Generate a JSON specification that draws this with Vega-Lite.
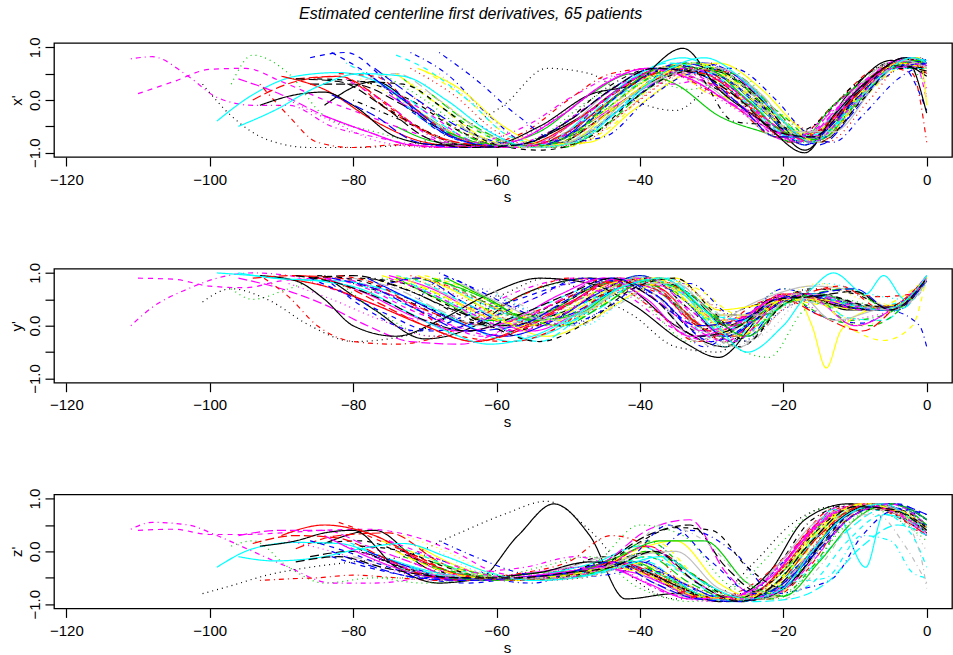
{
"$schema": "https://vega.github.io/schema/vega-lite/v6.json",
"padding": {"left": 8, "top": 5, "right": 0, "bottom": 2},
"background": "white",
"title": {"text": "Estimated centerline first derivatives, 65 patients", "anchor": "start", "frame": "group", "dx": 245, "offset": 1.5, "baseline": "alphabetic", "font": "Liberation Sans", "fontSize": 16, "fontStyle": "italic", "fontWeight": "normal", "color": "black"},
"config": {
  "font": "Liberation Sans",
  "view": {"stroke": "black", "strokeWidth": 1.3},
  "axis": {"domain": false, "grid": false, "ticks": true, "tickColor": "black", "tickSize": 9, "tickWidth": 1.2, "labelFont": "Liberation Sans", "labelFontSize": 15, "labelColor": "black", "titleFont": "Liberation Sans", "titleFontSize": 15, "titleFontWeight": "normal", "titleColor": "black", "labelFlush": false, "labelOverlap": false},
  "axisX": {"labelPadding": 6, "titleX": 453, "titleY": 44, "titleAlign": "center", "titleBaseline": "alphabetic"},
  "axisY": {"labelAngle": -90, "labelAlign": "center", "labelBaseline": "bottom", "labelPadding": 3, "titleAngle": -90, "titleX": -38, "titleY": 57, "titleAlign": "center", "titleBaseline": "middle"}
},
"data": {"values": [
{"c":1,"s":-84,"x":-0.1,"y":0.95,"z":0.15},{"c":1,"s":-77,"x":0.35,"y":0.3,"z":0.4},{"c":1,"s":-70,"x":-0.3,"y":-0.25,"z":-0.3},{"c":1,"s":-63,"x":-0.8,"y":0.0,"z":-0.55},{"c":1,"s":-57,"x":-0.85,"y":0.55,"z":0.3},{"c":1,"s":-52,"x":-0.6,"y":0.8,"z":0.9},{"c":1,"s":-47,"x":-0.2,"y":0.9,"z":0.3},{"c":1,"s":-42,"x":0.3,"y":0.75,"z":-0.9},{"c":1,"s":-35,"x":0.65,"y":0.0,"z":-0.8},{"c":1,"s":-28,"x":0.4,"y":-0.4,"z":-0.9},{"c":1,"s":-22,"x":-0.3,"y":0.5,"z":-0.4},{"c":1,"s":-17,"x":-0.95,"y":0.6,"z":0.6},{"c":1,"s":-11,"x":0.1,"y":0.3,"z":0.9},{"c":1,"s":-5,"x":0.75,"y":0.3,"z":0.75},{"c":1,"s":0,"x":0.45,"y":0.9,"z":0.35},
{"c":2,"s":-78,"x":0.2,"y":0.6,"z":0.3},{"c":2,"s":-71,"x":-0.5,"y":0.9,"z":-0.1},{"c":2,"s":-64,"x":-0.85,"y":0.6,"z":-0.5},{"c":2,"s":-57,"x":-0.9,"y":0.2,"z":-0.55},{"c":2,"s":-50,"x":-0.7,"y":0.4,"z":-0.4},{"c":2,"s":-44,"x":0.0,"y":0.8,"z":-0.3},{"c":2,"s":-37,"x":0.5,"y":0.6,"z":-0.5},{"c":2,"s":-30,"x":0.3,"y":-0.1,"z":-0.9},{"c":2,"s":-24,"x":-0.2,"y":0.4,"z":-0.6},{"c":2,"s":-19,"x":-0.8,"y":0.6,"z":0.0},{"c":2,"s":-13,"x":-0.1,"y":0.7,"z":0.8},{"c":2,"s":-7,"x":0.6,"y":0.55,"z":0.8},{"c":2,"s":-2,"x":0.7,"y":0.6,"z":0.5},{"c":2,"s":0,"x":0.6,"y":0.85,"z":0.4},
{"c":3,"s":-97,"x":0.3,"y":0.7,"z":0.1},{"c":3,"s":-94,"x":0.85,"y":0.5,"z":0.2},{"c":3,"s":-89,"x":0.5,"y":0.7,"z":-0.3},{"c":3,"s":-84,"x":-0.3,"y":0.9,"z":-0.6},{"c":3,"s":-77,"x":-0.6,"y":0.3,"z":-0.5},{"c":3,"s":-69,"x":-0.85,"y":-0.2,"z":-0.5},{"c":3,"s":-61,"x":-0.9,"y":0.3,"z":-0.5},{"c":3,"s":-54,"x":-0.7,"y":0.7,"z":-0.3},{"c":3,"s":-47,"x":0.0,"y":0.9,"z":-0.1},{"c":3,"s":-40,"x":0.4,"y":0.5,"z":-0.7},{"c":3,"s":-33,"x":0.2,"y":-0.3,"z":-0.95},{"c":3,"s":-26,"x":0.5,"y":0.1,"z":-0.6},{"c":3,"s":-20,"x":-0.5,"y":0.7,"z":0.2},{"c":3,"s":-15,"x":-0.6,"y":0.5,"z":0.8},{"c":3,"s":-9,"x":0.4,"y":0.3,"z":0.85},{"c":3,"s":-4,"x":0.7,"y":0.4,"z":0.6},{"c":3,"s":0,"x":0.3,"y":0.8,"z":0.2},
{"c":4,"s":-72,"x":0.9,"y":0.3,"z":0.0},{"c":4,"s":-67,"x":0.5,"y":0.9,"z":-0.2},{"c":4,"s":-61,"x":-0.3,"y":0.5,"z":-0.5},{"c":4,"s":-55,"x":-0.85,"y":0.0,"z":-0.6},{"c":4,"s":-49,"x":-0.6,"y":0.5,"z":-0.4},{"c":4,"s":-43,"x":0.2,"y":0.9,"z":-0.2},{"c":4,"s":-37,"x":0.6,"y":0.4,"z":-0.6},{"c":4,"s":-31,"x":0.5,"y":-0.4,"z":-0.9},{"c":4,"s":-25,"x":0.0,"y":0.2,"z":-0.8},{"c":4,"s":-20,"x":-0.6,"y":0.7,"z":-0.2},{"c":4,"s":-15,"x":-0.7,"y":0.5,"z":0.5},{"c":4,"s":-10,"x":0.0,"y":0.4,"z":0.85},{"c":4,"s":-5,"x":0.5,"y":0.3,"z":0.9},{"c":4,"s":-1,"x":0.8,"y":0.0,"z":0.7},{"c":4,"s":0,"x":0.7,"y":-0.4,"z":0.6},
{"c":5,"s":-66,"x":-0.7,"y":0.7,"z":-0.4},{"c":5,"s":-60,"x":-0.85,"y":0.3,"z":-0.5},{"c":5,"s":-53,"x":-0.8,"y":0.0,"z":-0.5},{"c":5,"s":-46,"x":-0.2,"y":0.3,"z":-0.3},{"c":5,"s":-39,"x":0.4,"y":0.9,"z":-0.2},{"c":5,"s":-33,"x":0.7,"y":0.5,"z":-0.8},{"c":5,"s":-27,"x":0.2,"y":-0.2,"z":-0.95},{"c":5,"s":-21,"x":-0.6,"y":0.4,"z":-0.8},{"c":5,"s":-16,"x":-0.8,"y":0.6,"z":-0.3},{"c":5,"s":-11,"x":-0.2,"y":0.15,"z":0.4},{"c":5,"s":-6,"x":0.5,"y":0.1,"z":0.8},{"c":5,"s":-2,"x":0.8,"y":0.6,"z":0.6},{"c":5,"s":0,"x":0.7,"y":0.9,"z":0.4},
{"c":6,"s":-75,"x":0.1,"y":0.95,"z":0.2},{"c":6,"s":-69,"x":-0.4,"y":0.7,"z":-0.3},{"c":6,"s":-62,"x":-0.85,"y":0.2,"z":-0.5},{"c":6,"s":-55,"x":-0.9,"y":-0.1,"z":-0.4},{"c":6,"s":-48,"x":-0.5,"y":0.3,"z":-0.3},{"c":6,"s":-41,"x":0.1,"y":0.8,"z":-0.4},{"c":6,"s":-35,"x":0.5,"y":0.7,"z":-0.7},{"c":6,"s":-29,"x":0.6,"y":0.1,"z":-0.9},{"c":6,"s":-23,"x":0.0,"y":0.3,"z":-0.7},{"c":6,"s":-18,"x":-0.7,"y":0.6,"z":0.1},{"c":6,"s":-12,"x":-0.2,"y":0.5,"z":0.8},{"c":6,"s":-7,"x":0.5,"y":0.3,"z":0.9},{"c":6,"s":-3,"x":0.8,"y":0.5,"z":0.6},{"c":6,"s":0,"x":0.6,"y":0.95,"z":0.3},
{"c":7,"s":-70,"x":0.55,"y":0.95,"z":-0.1},{"c":7,"s":-64,"x":0.0,"y":0.7,"z":-0.4},{"c":7,"s":-58,"x":-0.7,"y":0.3,"z":-0.5},{"c":7,"s":-51,"x":-0.9,"y":0.1,"z":-0.5},{"c":7,"s":-44,"x":-0.5,"y":0.5,"z":-0.2},{"c":7,"s":-38,"x":0.3,"y":0.9,"z":0.2},{"c":7,"s":-32,"x":0.7,"y":0.7,"z":-0.5},{"c":7,"s":-26,"x":-0.2,"y":0.2,"z":-0.9},{"c":7,"s":-20,"x":-0.3,"y":0.5,"z":-0.6},{"c":7,"s":-15,"x":-0.8,"y":0.4,"z":0.3},{"c":7,"s":-9,"x":0.0,"y":0.3,"z":0.85},{"c":7,"s":-4,"x":0.6,"y":0.5,"z":0.7},{"c":7,"s":0,"x":0.7,"y":0.9,"z":0.5},
{"c":8,"s":-68,"x":0.5,"y":0.9,"z":0.0},{"c":8,"s":-62,"x":-0.2,"y":0.6,"z":-0.4},{"c":8,"s":-56,"x":-0.8,"y":0.2,"z":-0.5},{"c":8,"s":-49,"x":-0.85,"y":0.3,"z":-0.45},{"c":8,"s":-42,"x":-0.2,"y":0.8,"z":-0.3},{"c":8,"s":-36,"x":0.4,"y":0.6,"z":-0.6},{"c":8,"s":-30,"x":0.5,"y":-0.3,"z":-0.9},{"c":8,"s":-24,"x":0.2,"y":0.1,"z":-0.8},{"c":8,"s":-19,"x":-0.5,"y":0.6,"z":-0.1},{"c":8,"s":-14,"x":-0.6,"y":0.4,"z":0.7},{"c":8,"s":-8,"x":0.3,"y":0.3,"z":0.9},{"c":8,"s":-3,"x":0.8,"y":0.4,"z":0.6},{"c":8,"s":0,"x":0.6,"y":0.8,"z":0.0},
{"c":9,"s":-80,"x":0.0,"y":0.8,"z":0.1},{"c":9,"s":-73,"x":-0.4,"y":0.5,"z":-0.3},{"c":9,"s":-66,"x":-0.8,"y":0.1,"z":-0.5},{"c":9,"s":-59,"x":-0.9,"y":0.0,"z":-0.5},{"c":9,"s":-52,"x":-0.6,"y":0.4,"z":-0.4},{"c":9,"s":-45,"x":0.2,"y":0.8,"z":-0.1},{"c":9,"s":-38,"x":0.6,"y":0.6,"z":-0.5},{"c":9,"s":-32,"x":0.4,"y":-0.1,"z":-0.9},{"c":9,"s":-26,"x":-0.1,"y":0.3,"z":-0.8},{"c":9,"s":-21,"x":-0.7,"y":0.5,"z":-0.3},{"c":9,"s":-16,"x":-0.5,"y":0.7,"z":0.6},{"c":9,"s":-10,"x":0.3,"y":0.6,"z":0.9},{"c":9,"s":-5,"x":0.7,"y":0.35,"z":0.75},{"c":9,"s":0,"x":0.5,"y":0.85,"z":0.4},
{"c":10,"s":-88,"x":0.4,"y":0.95,"z":0.05},{"c":10,"s":-82,"x":0.45,"y":0.9,"z":0.3},{"c":10,"s":-75,"x":-0.2,"y":0.6,"z":0.35},{"c":10,"s":-68,"x":-0.7,"y":0.2,"z":-0.2},{"c":10,"s":-61,"x":-0.9,"y":0.0,"z":-0.55},{"c":10,"s":-54,"x":-0.8,"y":0.3,"z":-0.5},{"c":10,"s":-47,"x":-0.2,"y":0.7,"z":-0.4},{"c":10,"s":-40,"x":0.4,"y":0.9,"z":-0.3},{"c":10,"s":-34,"x":0.6,"y":0.3,"z":-0.8},{"c":10,"s":-28,"x":0.2,"y":-0.3,"z":-0.95},{"c":10,"s":-22,"x":-0.4,"y":0.4,"z":-0.6},{"c":10,"s":-17,"x":-0.85,"y":0.6,"z":0.3},{"c":10,"s":-11,"x":0.0,"y":0.4,"z":0.85},{"c":10,"s":-6,"x":0.6,"y":0.3,"z":0.8},{"c":10,"s":-2,"x":0.7,"y":0.6,"z":0.5},{"c":10,"s":0,"x":0.5,"y":0.9,"z":0.3},
{"c":11,"s":-74,"x":-0.5,"y":0.9,"z":-0.3},{"c":11,"s":-68,"x":-0.8,"y":0.5,"z":-0.5},{"c":11,"s":-61,"x":-0.85,"y":0.1,"z":-0.5},{"c":11,"s":-54,"x":-0.6,"y":0.2,"z":-0.4},{"c":11,"s":-47,"x":0.1,"y":0.7,"z":-0.35},{"c":11,"s":-41,"x":0.5,"y":0.9,"z":-0.2},{"c":11,"s":-35,"x":0.3,"y":0.4,"z":-0.6},{"c":11,"s":-29,"x":-0.3,"y":-0.2,"z":-0.9},{"c":11,"s":-23,"x":-0.6,"y":0.3,"z":-0.7},{"c":11,"s":-18,"x":-0.8,"y":0.5,"z":-0.1},{"c":11,"s":-13,"x":-0.1,"y":0.4,"z":0.6},{"c":11,"s":-7,"x":0.5,"y":0.3,"z":0.9},{"c":11,"s":-3,"x":0.75,"y":0.5,"z":0.7},{"c":11,"s":0,"x":0.6,"y":0.9,"z":0.5},
{"c":12,"s":-83,"x":0.9,"y":0.8,"z":-0.1},{"c":12,"s":-78,"x":0.5,"y":0.3,"z":-0.3},{"c":12,"s":-71,"x":-0.3,"y":-0.1,"z":-0.5},{"c":12,"s":-64,"x":-0.8,"y":0.2,"z":-0.6},{"c":12,"s":-57,"x":-0.85,"y":0.5,"z":-0.5},{"c":12,"s":-50,"x":-0.7,"y":0.8,"z":-0.45},{"c":12,"s":-43,"x":-0.1,"y":0.9,"z":-0.3},{"c":12,"s":-37,"x":0.5,"y":0.5,"z":-0.4},{"c":12,"s":-31,"x":0.7,"y":-0.2,"z":-0.8},{"c":12,"s":-25,"x":0.2,"y":0.1,"z":-0.9},{"c":12,"s":-20,"x":-0.5,"y":0.6,"z":-0.5},{"c":12,"s":-15,"x":-0.7,"y":0.2,"z":0.3},{"c":12,"s":-9,"x":0.2,"y":0.05,"z":0.8},{"c":12,"s":-4,"x":0.7,"y":0.4,"z":0.9},{"c":12,"s":0,"x":-0.2,"y":0.8,"z":0.6},
{"c":13,"s":-65,"x":-0.3,"y":0.6,"z":-0.3},{"c":13,"s":-59,"x":-0.8,"y":0.2,"z":-0.5},{"c":13,"s":-53,"x":-0.9,"y":0.1,"z":-0.55},{"c":13,"s":-46,"x":-0.4,"y":0.5,"z":-0.4},{"c":13,"s":-40,"x":0.2,"y":0.85,"z":-0.2},{"c":13,"s":-34,"x":0.6,"y":0.3,"z":-0.6},{"c":13,"s":-28,"x":0.3,"y":-0.4,"z":-0.9},{"c":13,"s":-22,"x":-0.3,"y":0.4,"z":-0.7},{"c":13,"s":-17,"x":-0.8,"y":0.6,"z":0.0},{"c":13,"s":-12,"x":-0.3,"y":0.4,"z":0.7},{"c":13,"s":-6,"x":0.5,"y":0.35,"z":0.85},{"c":13,"s":-2,"x":0.75,"y":0.6,"z":0.6},{"c":13,"s":0,"x":0.6,"y":0.9,"z":0.4},
{"c":14,"s":-111,"x":0.78,"y":0.0,"z":0.42},{"c":14,"s":-108,"x":0.82,"y":0.35,"z":0.55},{"c":14,"s":-103,"x":0.45,"y":0.7,"z":0.5},{"c":14,"s":-99,"x":0.05,"y":0.9,"z":0.3},{"c":14,"s":-94,"x":-0.1,"y":1.0,"z":0.0},{"c":14,"s":-89,"x":-0.1,"y":0.95,"z":-0.3},{"c":14,"s":-83,"x":-0.5,"y":0.7,"z":-0.6},{"c":14,"s":-77,"x":-0.7,"y":0.4,"z":-0.6},{"c":14,"s":-70,"x":-0.85,"y":0.1,"z":-0.5},{"c":14,"s":-63,"x":-0.8,"y":0.3,"z":-0.4},{"c":14,"s":-56,"x":-0.5,"y":0.7,"z":-0.3},{"c":14,"s":-49,"x":0.1,"y":0.9,"z":-0.1},{"c":14,"s":-42,"x":0.5,"y":0.6,"z":-0.4},{"c":14,"s":-36,"x":0.3,"y":0.0,"z":-0.8},{"c":14,"s":-30,"x":0.4,"y":-0.3,"z":-0.9},{"c":14,"s":-24,"x":-0.2,"y":0.3,"z":-0.7},{"c":14,"s":-19,"x":-0.7,"y":0.6,"z":0.0},{"c":14,"s":-13,"x":-0.2,"y":0.4,"z":0.75},{"c":14,"s":-7,"x":0.5,"y":0.3,"z":0.9},{"c":14,"s":-3,"x":0.8,"y":0.5,"z":0.6},{"c":14,"s":0,"x":0.6,"y":0.95,"z":0.3},
{"c":15,"s":-76,"x":0.3,"y":0.95,"z":0.2},{"c":15,"s":-70,"x":-0.3,"y":0.7,"z":-0.1},{"c":15,"s":-63,"x":-0.8,"y":0.3,"z":-0.45},{"c":15,"s":-56,"x":-0.9,"y":0.0,"z":-0.5},{"c":15,"s":-49,"x":-0.6,"y":0.3,"z":-0.45},{"c":15,"s":-42,"x":0.1,"y":0.8,"z":-0.2},{"c":15,"s":-36,"x":0.6,"y":0.8,"z":-0.5},{"c":15,"s":-30,"x":0.1,"y":0.2,"z":-0.9},{"c":15,"s":-24,"x":0.0,"y":0.2,"z":-0.8},{"c":15,"s":-19,"x":-0.6,"y":0.6,"z":-0.2},{"c":15,"s":-14,"x":-0.6,"y":0.4,"z":0.6},{"c":15,"s":-8,"x":0.2,"y":0.3,"z":0.9},{"c":15,"s":-3,"x":0.7,"y":0.4,"z":0.7},{"c":15,"s":0,"x":0.6,"y":0.85,"z":0.45},
{"c":16,"s":-70,"x":-0.6,"y":0.8,"z":-0.4},{"c":16,"s":-64,"x":-0.85,"y":0.4,"z":-0.5},{"c":16,"s":-57,"x":-0.9,"y":0.1,"z":-0.5},{"c":16,"s":-50,"x":-0.5,"y":0.4,"z":-0.3},{"c":16,"s":-44,"x":0.2,"y":0.85,"z":-0.1},{"c":16,"s":-38,"x":0.6,"y":0.6,"z":-0.6},{"c":16,"s":-32,"x":0.4,"y":-0.3,"z":-0.9},{"c":16,"s":-26,"x":-0.2,"y":0.3,"z":-0.85},{"c":16,"s":-21,"x":-0.7,"y":0.6,"z":-0.3},{"c":16,"s":-16,"x":-0.6,"y":0.75,"z":0.5},{"c":16,"s":-10,"x":0.2,"y":0.65,"z":0.85},{"c":16,"s":-5,"x":0.7,"y":0.35,"z":0.75},{"c":16,"s":0,"x":0.55,"y":0.85,"z":0.4},
{"c":17,"s":-85,"x":0.4,"y":0.95,"z":0.15},{"c":17,"s":-79,"x":0.35,"y":0.85,"z":0.2},{"c":17,"s":-72,"x":0.0,"y":0.5,"z":-0.1},{"c":17,"s":-65,"x":-0.6,"y":0.1,"z":-0.5},{"c":17,"s":-58,"x":-0.9,"y":0.0,"z":-0.55},{"c":17,"s":-51,"x":-0.85,"y":0.4,"z":-0.5},{"c":17,"s":-44,"x":-0.3,"y":0.85,"z":-0.2},{"c":17,"s":-38,"x":0.4,"y":0.7,"z":0.0},{"c":17,"s":-32,"x":0.7,"y":0.0,"z":-0.5},{"c":17,"s":-26,"x":0.3,"y":-0.4,"z":-0.95},{"c":17,"s":-20,"x":-0.5,"y":0.4,"z":-0.7},{"c":17,"s":-15,"x":-0.75,"y":0.6,"z":0.2},{"c":17,"s":-9,"x":0.1,"y":0.4,"z":0.85},{"c":17,"s":-4,"x":0.7,"y":0.3,"z":0.8},{"c":17,"s":0,"x":0.7,"y":0.9,"z":0.5},
{"c":18,"s":-72,"x":0.1,"y":0.9,"z":-0.2},{"c":18,"s":-66,"x":-0.5,"y":0.6,"z":-0.45},{"c":18,"s":-60,"x":-0.85,"y":0.2,"z":-0.5},{"c":18,"s":-53,"x":-0.9,"y":0.0,"z":-0.5},{"c":18,"s":-46,"x":-0.6,"y":0.4,"z":-0.4},{"c":18,"s":-40,"x":0.0,"y":0.85,"z":-0.2},{"c":18,"s":-34,"x":0.5,"y":0.6,"z":-0.7},{"c":18,"s":-28,"x":0.3,"y":-0.1,"z":-0.95},{"c":18,"s":-22,"x":-0.4,"y":0.5,"z":-0.6},{"c":18,"s":-17,"x":-0.85,"y":0.55,"z":0.3},{"c":18,"s":-11,"x":0.0,"y":0.4,"z":0.85},{"c":18,"s":-6,"x":0.6,"y":0.3,"z":0.8},{"c":18,"s":-2,"x":0.8,"y":0.6,"z":0.5},{"c":18,"s":0,"x":0.6,"y":0.9,"z":0.4},
{"c":19,"s":-64,"x":-0.7,"y":0.5,"z":-0.5},{"c":19,"s":-58,"x":-0.9,"y":0.2,"z":-0.55},{"c":19,"s":-52,"x":-0.8,"y":0.3,"z":-0.5},{"c":19,"s":-45,"x":-0.3,"y":0.7,"z":-0.3},{"c":19,"s":-39,"x":0.3,"y":0.9,"z":0.2},{"c":19,"s":-33,"x":0.6,"y":0.4,"z":-0.4},{"c":19,"s":-27,"x":0.0,"y":-0.3,"z":-0.9},{"c":19,"s":-21,"x":-0.2,"y":0.3,"z":-0.8},{"c":19,"s":-16,"x":-0.7,"y":0.6,"z":-0.1},{"c":19,"s":-11,"x":-0.1,"y":0.1,"z":0.6},{"c":19,"s":-6,"x":0.6,"y":0.2,"z":0.85},{"c":19,"s":-2,"x":0.8,"y":0.6,"z":0.6},{"c":19,"s":0,"x":0.7,"y":0.9,"z":0.4},
{"c":20,"s":-77,"x":0.6,"y":0.7,"z":-0.1},{"c":20,"s":-71,"x":0.0,"y":0.9,"z":-0.4},{"c":20,"s":-64,"x":-0.6,"y":0.4,"z":-0.55},{"c":20,"s":-57,"x":-0.85,"y":0.0,"z":-0.5},{"c":20,"s":-50,"x":-0.8,"y":0.2,"z":-0.45},{"c":20,"s":-43,"x":-0.2,"y":0.7,"z":-0.3},{"c":20,"s":-37,"x":0.4,"y":0.9,"z":-0.4},{"c":20,"s":-31,"x":0.7,"y":0.3,"z":-0.85},{"c":20,"s":-25,"x":0.3,"y":-0.2,"z":-0.9},{"c":20,"s":-20,"x":-0.4,"y":0.5,"z":-0.5},{"c":20,"s":-15,"x":-0.85,"y":0.6,"z":0.1},{"c":20,"s":-10,"x":-0.2,"y":0.4,"z":0.7},{"c":20,"s":-5,"x":0.6,"y":0.3,"z":0.9},{"c":20,"s":0,"x":0.75,"y":0.85,"z":0.6},
{"c":21,"s":-99,"x":-0.4,"y":1.0,"z":-0.3},{"c":21,"s":-94,"x":0.1,"y":0.95,"z":0.05},{"c":21,"s":-88,"x":0.45,"y":0.87,"z":0.17},{"c":21,"s":-82,"x":0.52,"y":0.85,"z":0.15},{"c":21,"s":-76,"x":0.3,"y":0.7,"z":-0.1},{"c":21,"s":-70,"x":-0.3,"y":0.4,"z":-0.35},{"c":21,"s":-64,"x":-0.8,"y":0.0,"z":-0.5},{"c":21,"s":-58,"x":-0.9,"y":-0.3,"z":-0.55},{"c":21,"s":-52,"x":-0.75,"y":-0.1,"z":-0.4},{"c":21,"s":-46,"x":-0.1,"y":0.4,"z":-0.2},{"c":21,"s":-40,"x":0.5,"y":0.9,"z":0.1},{"c":21,"s":-34,"x":0.8,"y":0.6,"z":-0.4},{"c":21,"s":-28,"x":0.4,"y":-0.2,"z":-0.9},{"c":21,"s":-22,"x":-0.3,"y":0.4,"z":-0.8},{"c":21,"s":-17,"x":-0.85,"y":0.6,"z":0.0},{"c":21,"s":-13,"x":-0.3,"y":1.0,"z":0.8},{"c":21,"s":-8.5,"x":0.3,"y":0.6,"z":-0.3},{"c":21,"s":-6,"x":0.55,"y":0.95,"z":0.7},{"c":21,"s":-3,"x":0.8,"y":0.5,"z":0.6},{"c":21,"s":0,"x":0.75,"y":0.95,"z":0.35},
{"c":22,"s":-110,"x":0.12,"y":0.9,"z":0.4},{"c":22,"s":-105,"x":0.35,"y":0.88,"z":0.42},{"c":22,"s":-100,"x":0.58,"y":0.75,"z":0.32},{"c":22,"s":-95,"x":0.6,"y":0.72,"z":0.32},{"c":22,"s":-90,"x":0.35,"y":0.85,"z":0.35},{"c":22,"s":-84,"x":0.0,"y":0.9,"z":0.4},{"c":22,"s":-78,"x":-0.3,"y":0.7,"z":0.42},{"c":22,"s":-72,"x":-0.6,"y":0.3,"z":0.3},{"c":22,"s":-66,"x":-0.85,"y":0.0,"z":0.0},{"c":22,"s":-60,"x":-0.9,"y":-0.2,"z":-0.4},{"c":22,"s":-54,"x":-0.7,"y":0.1,"z":-0.5},{"c":22,"s":-47,"x":-0.1,"y":0.6,"z":-0.4},{"c":22,"s":-41,"x":0.4,"y":0.9,"z":-0.3},{"c":22,"s":-35,"x":0.5,"y":0.5,"z":-0.7},{"c":22,"s":-29,"x":0.2,"y":-0.2,"z":-0.95},{"c":22,"s":-23,"x":-0.4,"y":0.4,"z":-0.7},{"c":22,"s":-18,"x":-0.8,"y":0.6,"z":0.1},{"c":22,"s":-12,"x":0.0,"y":0.4,"z":0.85},{"c":22,"s":-6,"x":0.6,"y":0.3,"z":0.85},{"c":22,"s":-2,"x":0.8,"y":0.5,"z":0.55},{"c":22,"s":0,"x":0.0,"y":0.9,"z":0.35},
{"c":23,"s":-79,"x":0.4,"y":0.9,"z":0.1},{"c":23,"s":-72,"x":-0.1,"y":0.7,"z":-0.3},{"c":23,"s":-65,"x":-0.7,"y":0.3,"z":-0.5},{"c":23,"s":-58,"x":-0.85,"y":0.1,"z":-0.5},{"c":23,"s":-51,"x":-0.75,"y":0.3,"z":-0.4},{"c":23,"s":-44,"x":-0.1,"y":0.8,"z":-0.2},{"c":23,"s":-38,"x":0.5,"y":0.9,"z":-0.5},{"c":23,"s":-32,"x":0.6,"y":0.3,"z":-0.8},{"c":23,"s":-26,"x":0.2,"y":-0.2,"z":-0.9},{"c":23,"s":-20,"x":-0.5,"y":0.5,"z":-0.4},{"c":23,"s":-15,"x":-0.7,"y":0.8,"z":0.4},{"c":23,"s":-9,"x":0.2,"y":0.5,"z":0.9},{"c":23,"s":-4,"x":0.7,"y":0.4,"z":0.7},{"c":23,"s":0,"x":0.6,"y":0.85,"z":0.4},
{"c":24,"s":-67,"x":-0.2,"y":0.8,"z":-0.3},{"c":24,"s":-61,"x":-0.8,"y":0.4,"z":-0.5},{"c":24,"s":-54,"x":-0.9,"y":0.1,"z":-0.55},{"c":24,"s":-47,"x":-0.5,"y":0.5,"z":-0.35},{"c":24,"s":-41,"x":0.2,"y":0.9,"z":-0.1},{"c":24,"s":-35,"x":0.6,"y":0.5,"z":-0.6},{"c":24,"s":-29,"x":0.5,"y":-0.2,"z":-0.9},{"c":24,"s":-23,"x":-0.1,"y":0.3,"z":-0.8},{"c":24,"s":-18,"x":-0.6,"y":0.6,"z":-0.2},{"c":24,"s":-13,"x":-0.4,"y":0.4,"z":0.6},{"c":24,"s":-7,"x":0.4,"y":0.3,"z":0.7},{"c":24,"s":-3,"x":0.75,"y":0.45,"z":0.1},{"c":24,"s":0,"x":0.6,"y":0.9,"z":-0.6},
{"c":25,"s":-86,"x":0.3,"y":0.9,"z":-0.1},{"c":25,"s":-80,"x":0.3,"y":0.95,"z":0.0},{"c":25,"s":-73,"x":-0.1,"y":0.7,"z":-0.3},{"c":25,"s":-66,"x":-0.7,"y":0.3,"z":-0.5},{"c":25,"s":-59,"x":-0.9,"y":0.0,"z":-0.5},{"c":25,"s":-52,"x":-0.85,"y":0.2,"z":-0.45},{"c":25,"s":-45,"x":-0.3,"y":0.6,"z":-0.2},{"c":25,"s":-39,"x":0.3,"y":0.9,"z":0.3},{"c":25,"s":-33,"x":0.6,"y":0.6,"z":0.5},{"c":25,"s":-28,"x":0.5,"y":0.0,"z":-0.3},{"c":25,"s":-23,"x":0.0,"y":0.3,"z":-0.8},{"c":25,"s":-18,"x":-0.7,"y":0.6,"z":-0.3},{"c":25,"s":-13,"x":-0.4,"y":0.4,"z":0.5},{"c":25,"s":-7,"x":0.5,"y":0.3,"z":0.85},{"c":25,"s":-3,"x":0.8,"y":0.5,"z":0.7},{"c":25,"s":0,"x":0.6,"y":0.9,"z":0.4},
{"c":26,"s":-90,"x":0.45,"y":0.9,"z":0.3},{"c":26,"s":-84,"x":0.2,"y":0.75,"z":0.5},{"c":26,"s":-77,"x":-0.4,"y":0.4,"z":0.3},{"c":26,"s":-70,"x":-0.8,"y":0.0,"z":-0.2},{"c":26,"s":-63,"x":-0.9,"y":-0.3,"z":-0.5},{"c":26,"s":-56,"x":-0.85,"y":0.0,"z":-0.55},{"c":26,"s":-49,"x":-0.4,"y":0.5,"z":-0.4},{"c":26,"s":-43,"x":0.2,"y":0.9,"z":-0.2},{"c":26,"s":-37,"x":0.6,"y":0.7,"z":-0.5},{"c":26,"s":-31,"x":0.5,"y":0.0,"z":-0.9},{"c":26,"s":-25,"x":-0.1,"y":0.2,"z":-0.85},{"c":26,"s":-20,"x":-0.7,"y":0.6,"z":-0.3},{"c":26,"s":-15,"x":-0.6,"y":0.5,"z":0.5},{"c":26,"s":-9,"x":0.2,"y":0.35,"z":0.9},{"c":26,"s":-4,"x":0.7,"y":0.4,"z":0.75},{"c":26,"s":0,"x":0.6,"y":0.85,"z":0.45},
{"c":27,"s":-73,"x":0.4,"y":0.9,"z":-0.1},{"c":27,"s":-67,"x":-0.2,"y":0.8,"z":-0.35},{"c":27,"s":-61,"x":-0.7,"y":0.4,"z":-0.5},{"c":27,"s":-55,"x":-0.9,"y":0.1,"z":-0.5},{"c":27,"s":-48,"x":-0.7,"y":0.3,"z":-0.45},{"c":27,"s":-42,"x":0.0,"y":0.8,"z":-0.2},{"c":27,"s":-36,"x":0.5,"y":0.7,"z":-0.5},{"c":27,"s":-30,"x":0.6,"y":0.1,"z":-0.9},{"c":27,"s":-24,"x":0.1,"y":0.0,"z":-0.85},{"c":27,"s":-19,"x":-0.6,"y":0.5,"z":-0.3},{"c":27,"s":-14,"x":-0.6,"y":0.15,"z":0.6},{"c":27,"s":-8,"x":0.3,"y":0.0,"z":0.9},{"c":27,"s":-3,"x":0.75,"y":0.4,"z":0.7},{"c":27,"s":0,"x":0.65,"y":0.9,"z":0.4},
{"c":28,"s":-62,"x":-0.5,"y":0.7,"z":-0.4},{"c":28,"s":-56,"x":-0.85,"y":0.3,"z":-0.5},{"c":28,"s":-50,"x":-0.85,"y":0.0,"z":-0.5},{"c":28,"s":-44,"x":-0.3,"y":0.4,"z":-0.3},{"c":28,"s":-38,"x":0.3,"y":0.85,"z":0.0},{"c":28,"s":-32,"x":0.7,"y":0.5,"z":-0.5},{"c":28,"s":-26,"x":0.4,"y":-0.3,"z":-0.9},{"c":28,"s":-20,"x":-0.4,"y":0.3,"z":-0.7},{"c":28,"s":-15,"x":-0.8,"y":0.6,"z":0.0},{"c":28,"s":-10,"x":-0.1,"y":0.4,"z":0.7},{"c":28,"s":-5,"x":0.6,"y":0.3,"z":0.9},{"c":28,"s":-1,"x":0.8,"y":0.7,"z":0.6},{"c":28,"s":0,"x":0.75,"y":0.9,"z":0.5},
{"c":29,"s":-81,"x":0.7,"y":0.9,"z":0.2},{"c":29,"s":-76,"x":0.3,"y":0.6,"z":-0.1},{"c":29,"s":-69,"x":-0.5,"y":0.2,"z":-0.45},{"c":29,"s":-62,"x":-0.85,"y":0.0,"z":-0.5},{"c":29,"s":-55,"x":-0.9,"y":0.3,"z":-0.5},{"c":29,"s":-48,"x":-0.5,"y":0.7,"z":-0.4},{"c":29,"s":-42,"x":0.2,"y":0.9,"z":-0.2},{"c":29,"s":-36,"x":0.6,"y":0.5,"z":-0.6},{"c":29,"s":-30,"x":0.4,"y":-0.2,"z":-0.9},{"c":29,"s":-24,"x":-0.2,"y":0.2,"z":-0.9},{"c":29,"s":-19,"x":-0.7,"y":0.5,"z":-0.6},{"c":29,"s":-14,"x":-0.6,"y":0.4,"z":-0.5},{"c":29,"s":-9,"x":0.1,"y":0.35,"z":0.3},{"c":29,"s":-5,"x":0.6,"y":0.4,"z":0.2},{"c":29,"s":-2,"x":0.65,"y":0.6,"z":-0.4},{"c":29,"s":0,"x":0.6,"y":0.85,"z":-0.5},
{"c":30,"s":-96,"x":0.4,"y":0.9,"z":0.3},{"c":30,"s":-90,"x":0.1,"y":0.7,"z":0.4},{"c":30,"s":-84,"x":-0.3,"y":0.4,"z":0.4},{"c":30,"s":-78,"x":-0.6,"y":0.0,"z":0.1},{"c":30,"s":-72,"x":-0.85,"y":-0.3,"z":-0.2},{"c":30,"s":-65,"x":-0.9,"y":-0.35,"z":-0.5},{"c":30,"s":-58,"x":-0.8,"y":0.0,"z":-0.5},{"c":30,"s":-51,"x":-0.3,"y":0.5,"z":-0.4},{"c":30,"s":-45,"x":0.3,"y":0.9,"z":-0.2},{"c":30,"s":-39,"x":0.6,"y":0.6,"z":0.4},{"c":30,"s":-33,"x":0.4,"y":0.0,"z":0.6},{"c":30,"s":-28,"x":0.0,"y":-0.3,"z":-0.4},{"c":30,"s":-23,"x":-0.4,"y":0.3,"z":-0.9},{"c":30,"s":-18,"x":-0.8,"y":0.6,"z":-0.3},{"c":30,"s":-12,"x":-0.1,"y":0.4,"z":0.6},{"c":30,"s":-6,"x":0.6,"y":0.3,"z":0.9},{"c":30,"s":-2,"x":0.8,"y":0.55,"z":0.6},{"c":30,"s":0,"x":0.65,"y":0.95,"z":0.4},
{"c":31,"s":-71,"x":0.6,"y":0.95,"z":0.1},{"c":31,"s":-65,"x":0.2,"y":0.6,"z":-0.3},{"c":31,"s":-59,"x":-0.5,"y":0.1,"z":-0.5},{"c":31,"s":-53,"x":-0.85,"y":-0.2,"z":-0.5},{"c":31,"s":-47,"x":-0.8,"y":0.1,"z":-0.4},{"c":31,"s":-41,"x":-0.2,"y":0.6,"z":0.0},{"c":31,"s":-35,"x":0.4,"y":0.9,"z":0.2},{"c":31,"s":-29,"x":0.7,"y":0.3,"z":-0.6},{"c":31,"s":-23,"x":0.2,"y":0.4,"z":-0.9},{"c":31,"s":-18,"x":-0.5,"y":0.5,"z":-0.5},{"c":31,"s":-16,"x":-0.7,"y":0.0,"z":-0.1},{"c":31,"s":-14,"x":-0.6,"y":-0.8,"z":0.4},{"c":31,"s":-12,"x":-0.3,"y":-0.1,"z":0.75},{"c":31,"s":-8,"x":0.3,"y":0.3,"z":0.9},{"c":31,"s":-4,"x":0.7,"y":0.4,"z":0.8},{"c":31,"s":-1,"x":0.8,"y":0.7,"z":0.55},{"c":31,"s":0,"x":-0.1,"y":0.9,"z":0.45},
{"c":32,"s":-75,"x":0.2,"y":0.9,"z":-0.2},{"c":32,"s":-69,"x":-0.4,"y":0.6,"z":-0.4},{"c":32,"s":-62,"x":-0.85,"y":0.1,"z":-0.5},{"c":32,"s":-55,"x":-0.85,"y":-0.2,"z":-0.5},{"c":32,"s":-48,"x":-0.4,"y":0.3,"z":-0.4},{"c":32,"s":-42,"x":0.2,"y":0.8,"z":-0.2},{"c":32,"s":-36,"x":0.6,"y":0.6,"z":-0.6},{"c":32,"s":-30,"x":0.5,"y":-0.4,"z":-0.95},{"c":32,"s":-24,"x":0.0,"y":0.1,"z":-0.8},{"c":32,"s":-19,"x":-0.6,"y":0.5,"z":-0.2},{"c":32,"s":-14,"x":-0.7,"y":0.4,"z":0.5},{"c":32,"s":-8,"x":0.2,"y":0.3,"z":0.9},{"c":32,"s":-3,"x":0.75,"y":0.4,"z":0.6},{"c":32,"s":0,"x":0.6,"y":0.85,"z":0.35},
{"c":33,"s":-101,"x":0.3,"y":0.45,"z":-0.8},{"c":33,"s":-97,"x":-0.3,"y":0.7,"z":-0.65},{"c":33,"s":-92,"x":-0.75,"y":0.5,"z":-0.45},{"c":33,"s":-86,"x":-0.9,"y":0.0,"z":-0.3},{"c":33,"s":-80,"x":-0.9,"y":-0.3,"z":-0.2},{"c":33,"s":-73,"x":-0.85,"y":-0.2,"z":-0.1},{"c":33,"s":-66,"x":-0.6,"y":0.2,"z":0.3},{"c":33,"s":-59,"x":-0.1,"y":0.6,"z":0.7},{"c":33,"s":-53,"x":0.6,"y":0.9,"z":0.95},{"c":33,"s":-47,"x":0.5,"y":0.6,"z":0.4},{"c":33,"s":-41,"x":0.0,"y":0.2,"z":-0.5},{"c":33,"s":-35,"x":-0.2,"y":-0.4,"z":-0.9},{"c":33,"s":-29,"x":0.3,"y":-0.5,"z":-0.8},{"c":33,"s":-24,"x":-0.3,"y":0.2,"z":-0.2},{"c":33,"s":-19,"x":-0.8,"y":0.5,"z":0.5},{"c":33,"s":-13,"x":-0.1,"y":0.4,"z":0.85},{"c":33,"s":-7,"x":0.6,"y":0.3,"z":0.85},{"c":33,"s":-2,"x":0.8,"y":0.6,"z":0.5},{"c":33,"s":0,"x":0.6,"y":0.9,"z":0.4},
{"c":34,"s":-93,"x":0.3,"y":0.95,"z":-0.55},{"c":34,"s":-89,"x":-0.3,"y":0.55,"z":-0.52},{"c":34,"s":-85,"x":-0.8,"y":0.0,"z":-0.5},{"c":34,"s":-80,"x":-0.9,"y":-0.3,"z":-0.45},{"c":34,"s":-74,"x":-0.85,"y":-0.35,"z":-0.5},{"c":34,"s":-68,"x":-0.9,"y":-0.2,"z":-0.55},{"c":34,"s":-62,"x":-0.85,"y":0.2,"z":-0.5},{"c":34,"s":-56,"x":-0.6,"y":0.6,"z":-0.4},{"c":34,"s":-50,"x":0.0,"y":0.9,"z":-0.2},{"c":34,"s":-44,"x":0.5,"y":0.8,"z":0.3},{"c":34,"s":-38,"x":0.6,"y":0.3,"z":0.0},{"c":34,"s":-32,"x":0.3,"y":-0.3,"z":-0.9},{"c":34,"s":-26,"x":-0.2,"y":0.1,"z":-0.9},{"c":34,"s":-21,"x":-0.7,"y":0.5,"z":-0.5},{"c":34,"s":-16,"x":-0.7,"y":0.5,"z":0.3},{"c":34,"s":-10,"x":0.1,"y":0.35,"z":0.85},{"c":34,"s":-5,"x":0.6,"y":0.3,"z":0.8},{"c":34,"s":-2,"x":0.5,"y":0.6,"z":0.45},{"c":34,"s":0,"x":-0.8,"y":0.85,"z":0.3},
{"c":35,"s":-69,"x":0.1,"y":0.9,"z":-0.2},{"c":35,"s":-63,"x":-0.5,"y":0.6,"z":-0.4},{"c":35,"s":-57,"x":-0.85,"y":0.2,"z":-0.5},{"c":35,"s":-51,"x":-0.9,"y":0.0,"z":-0.5},{"c":35,"s":-45,"x":-0.5,"y":0.4,"z":-0.35},{"c":35,"s":-39,"x":0.2,"y":0.85,"z":-0.1},{"c":35,"s":-33,"x":0.6,"y":0.6,"z":-0.6},{"c":35,"s":-27,"x":0.5,"y":0.0,"z":-0.9},{"c":35,"s":-21,"x":-0.2,"y":0.4,"z":-0.7},{"c":35,"s":-16,"x":-0.8,"y":0.6,"z":0.0},{"c":35,"s":-11,"x":-0.2,"y":0.7,"z":0.7},{"c":35,"s":-5,"x":0.6,"y":0.3,"z":0.9},{"c":35,"s":0,"x":0.7,"y":0.9,"z":0.5},
{"c":36,"s":-78,"x":0.5,"y":0.9,"z":0.0},{"c":36,"s":-72,"x":-0.1,"y":0.5,"z":-0.3},{"c":36,"s":-66,"x":-0.7,"y":0.1,"z":-0.5},{"c":36,"s":-59,"x":-0.9,"y":-0.2,"z":-0.5},{"c":36,"s":-52,"x":-0.8,"y":0.1,"z":-0.45},{"c":36,"s":-46,"x":-0.2,"y":0.6,"z":-0.3},{"c":36,"s":-40,"x":0.4,"y":0.95,"z":-0.2},{"c":36,"s":-34,"x":0.7,"y":0.5,"z":-0.6},{"c":36,"s":-28,"x":0.4,"y":-0.2,"z":-0.9},{"c":36,"s":-22,"x":-0.3,"y":0.3,"z":-0.85},{"c":36,"s":-17,"x":-0.85,"y":0.6,"z":-0.2},{"c":36,"s":-12,"x":-0.3,"y":0.4,"z":0.6},{"c":36,"s":-6,"x":0.5,"y":0.3,"z":0.9},{"c":36,"s":-2,"x":0.8,"y":0.6,"z":0.6},{"c":36,"s":0,"x":0.7,"y":0.9,"z":0.5},
{"c":37,"s":-74,"x":0.85,"y":0.95,"z":0.1},{"c":37,"s":-70,"x":0.6,"y":0.8,"z":-0.1},{"c":37,"s":-64,"x":0.0,"y":0.4,"z":-0.4},{"c":37,"s":-58,"x":-0.7,"y":0.1,"z":-0.5},{"c":37,"s":-52,"x":-0.85,"y":0.2,"z":-0.5},{"c":37,"s":-45,"x":-0.4,"y":0.6,"z":-0.4},{"c":37,"s":-39,"x":0.3,"y":0.9,"z":-0.1},{"c":37,"s":-33,"x":0.7,"y":0.5,"z":-0.5},{"c":37,"s":-27,"x":0.3,"y":-0.3,"z":-0.9},{"c":37,"s":-21,"x":-0.4,"y":0.3,"z":-0.85},{"c":37,"s":-16,"x":-0.8,"y":0.6,"z":-0.6},{"c":37,"s":-11,"x":-0.2,"y":0.4,"z":0.2},{"c":37,"s":-6,"x":0.5,"y":0.35,"z":0.7},{"c":37,"s":-2,"x":0.7,"y":0.6,"z":0.3},{"c":37,"s":0,"x":0.6,"y":0.9,"z":-0.3},
{"c":38,"s":-89,"x":0.0,"y":0.8,"z":0.2},{"c":38,"s":-83,"x":-0.4,"y":0.5,"z":0.0},{"c":38,"s":-76,"x":-0.8,"y":0.1,"z":-0.3},{"c":38,"s":-69,"x":-0.9,"y":-0.2,"z":-0.5},{"c":38,"s":-62,"x":-0.9,"y":0.1,"z":-0.5},{"c":38,"s":-55,"x":-0.6,"y":0.5,"z":-0.45},{"c":38,"s":-48,"x":0.0,"y":0.85,"z":-0.3},{"c":38,"s":-42,"x":0.5,"y":0.7,"z":-0.4},{"c":38,"s":-36,"x":0.5,"y":0.1,"z":-0.8},{"c":38,"s":-30,"x":0.1,"y":-0.3,"z":-0.95},{"c":38,"s":-24,"x":-0.4,"y":0.3,"z":-0.7},{"c":38,"s":-19,"x":-0.8,"y":0.6,"z":-0.1},{"c":38,"s":-13,"x":-0.2,"y":0.1,"z":0.7},{"c":38,"s":-7,"x":0.5,"y":0.2,"z":0.9},{"c":38,"s":-2,"x":0.8,"y":0.6,"z":0.55},{"c":38,"s":0,"x":0.2,"y":0.9,"z":0.35},
{"c":39,"s":-66,"x":-0.4,"y":0.85,"z":-0.3},{"c":39,"s":-60,"x":-0.85,"y":0.4,"z":-0.5},{"c":39,"s":-54,"x":-0.9,"y":0.1,"z":-0.5},{"c":39,"s":-47,"x":-0.5,"y":0.3,"z":-0.4},{"c":39,"s":-41,"x":0.2,"y":0.8,"z":-0.2},{"c":39,"s":-35,"x":0.6,"y":0.7,"z":-0.5},{"c":39,"s":-29,"x":0.5,"y":0.1,"z":-0.9},{"c":39,"s":-23,"x":-0.1,"y":0.3,"z":-0.85},{"c":39,"s":-18,"x":-0.7,"y":0.6,"z":-0.2},{"c":39,"s":-13,"x":-0.4,"y":0.4,"z":0.6},{"c":39,"s":-7,"x":0.4,"y":0.3,"z":0.9},{"c":39,"s":-3,"x":0.75,"y":0.5,"z":0.7},{"c":39,"s":0,"x":0.6,"y":0.9,"z":0.45},
{"c":40,"s":-80,"x":0.3,"y":0.9,"z":-0.1},{"c":40,"s":-74,"x":0.5,"y":0.7,"z":-0.3},{"c":40,"s":-68,"x":0.0,"y":0.3,"z":-0.45},{"c":40,"s":-62,"x":-0.6,"y":0.0,"z":-0.5},{"c":40,"s":-56,"x":-0.85,"y":0.1,"z":-0.5},{"c":40,"s":-50,"x":-0.8,"y":0.5,"z":-0.45},{"c":40,"s":-44,"x":-0.2,"y":0.9,"z":-0.3},{"c":40,"s":-38,"x":0.4,"y":0.7,"z":-0.5},{"c":40,"s":-32,"x":0.6,"y":0.0,"z":-0.9},{"c":40,"s":-26,"x":0.2,"y":-0.4,"z":-0.95},{"c":40,"s":-20,"x":-0.5,"y":0.4,"z":-0.6},{"c":40,"s":-15,"x":-0.75,"y":0.5,"z":0.2},{"c":40,"s":-9,"x":0.1,"y":0.35,"z":0.85},{"c":40,"s":-4,"x":0.7,"y":0.35,"z":0.75},{"c":40,"s":0,"x":0.65,"y":0.85,"z":0.5},
{"c":41,"s":-93,"x":-0.1,"y":0.95,"z":0.1},{"c":41,"s":-88,"x":0.1,"y":0.85,"z":0.2},{"c":41,"s":-84,"x":0.15,"y":0.5,"z":0.35},{"c":41,"s":-80,"x":-0.1,"y":0.0,"z":0.4},{"c":41,"s":-74,"x":-0.7,"y":-0.2,"z":-0.3},{"c":41,"s":-68,"x":-0.85,"y":0.1,"z":-0.6},{"c":41,"s":-61,"x":-0.85,"y":0.6,"z":-0.5},{"c":41,"s":-54,"x":-0.5,"y":0.9,"z":-0.4},{"c":41,"s":-47,"x":0.1,"y":0.8,"z":-0.2},{"c":41,"s":-41,"x":0.3,"y":0.4,"z":-0.3},{"c":41,"s":-34,"x":0.98,"y":-0.3,"z":-0.7},{"c":41,"s":-29,"x":0.2,"y":-0.6,"z":-0.95},{"c":41,"s":-23,"x":-0.4,"y":0.2,"z":-0.9},{"c":41,"s":-17,"x":-1.0,"y":0.6,"z":-0.3},{"c":41,"s":-13,"x":-0.3,"y":0.4,"z":0.5},{"c":41,"s":-7,"x":0.5,"y":0.3,"z":0.9},{"c":41,"s":-3,"x":0.8,"y":0.5,"z":0.7},{"c":41,"s":0,"x":-0.25,"y":0.9,"z":0.4},
{"c":42,"s":-82,"x":0.5,"y":0.95,"z":0.55},{"c":42,"s":-77,"x":0.45,"y":0.8,"z":0.3},{"c":42,"s":-71,"x":-0.2,"y":0.3,"z":-0.1},{"c":42,"s":-65,"x":-0.75,"y":-0.2,"z":-0.45},{"c":42,"s":-58,"x":-0.9,"y":-0.3,"z":-0.55},{"c":42,"s":-51,"x":-0.8,"y":0.0,"z":-0.45},{"c":42,"s":-45,"x":-0.3,"y":0.6,"z":-0.3},{"c":42,"s":-39,"x":0.3,"y":0.9,"z":0.1},{"c":42,"s":-33,"x":0.6,"y":0.6,"z":-0.4},{"c":42,"s":-27,"x":0.5,"y":0.0,"z":-0.85},{"c":42,"s":-22,"x":-0.1,"y":0.3,"z":-0.9},{"c":42,"s":-17,"x":-0.7,"y":0.6,"z":-0.4},{"c":42,"s":-12,"x":-0.2,"y":0.75,"z":0.5},{"c":42,"s":-6,"x":0.6,"y":0.3,"z":0.9},{"c":42,"s":-2,"x":0.75,"y":0.55,"z":0.6},{"c":42,"s":0,"x":0.6,"y":0.9,"z":0.4},
{"c":43,"s":-76,"x":0.5,"y":0.9,"z":-0.5},{"c":43,"s":-70,"x":0.0,"y":0.7,"z":-0.6},{"c":43,"s":-64,"x":-0.6,"y":0.3,"z":-0.55},{"c":43,"s":-58,"x":-0.85,"y":0.0,"z":-0.5},{"c":43,"s":-52,"x":-0.85,"y":0.2,"z":-0.45},{"c":43,"s":-46,"x":-0.3,"y":0.6,"z":-0.2},{"c":43,"s":-40,"x":0.3,"y":0.95,"z":0.5},{"c":43,"s":-34,"x":0.6,"y":0.5,"z":0.3},{"c":43,"s":-28,"x":0.4,"y":-0.3,"z":-0.6},{"c":43,"s":-22,"x":-0.3,"y":-0.6,"z":-0.9},{"c":43,"s":-17,"x":-0.8,"y":0.3,"z":-0.5},{"c":43,"s":-12,"x":-0.3,"y":0.5,"z":0.4},{"c":43,"s":-6,"x":0.5,"y":0.35,"z":0.85},{"c":43,"s":-2,"x":0.8,"y":0.5,"z":0.7},{"c":43,"s":0,"x":0.6,"y":0.85,"z":0.5},
{"c":44,"s":-68,"x":0.9,"y":1.0,"z":0.2},{"c":44,"s":-63,"x":0.4,"y":0.7,"z":-0.1},{"c":44,"s":-57,"x":-0.3,"y":0.3,"z":-0.4},{"c":44,"s":-51,"x":-0.8,"y":0.0,"z":-0.5},{"c":44,"s":-45,"x":-0.7,"y":0.3,"z":-0.45},{"c":44,"s":-39,"x":0.0,"y":0.8,"z":-0.2},{"c":44,"s":-33,"x":0.5,"y":0.8,"z":0.4},{"c":44,"s":-27,"x":0.6,"y":0.2,"z":0.0},{"c":44,"s":-21,"x":0.0,"y":0.4,"z":-0.8},{"c":44,"s":-17,"x":-0.6,"y":0.6,"z":-0.7},{"c":44,"s":-13,"x":-0.8,"y":0.5,"z":-0.5},{"c":44,"s":-9,"x":-0.3,"y":0.3,"z":0.3},{"c":44,"s":-4,"x":0.4,"y":0.3,"z":0.8},{"c":44,"s":0,"x":0.7,"y":0.9,"z":0.6},
{"c":45,"s":-72,"x":0.0,"y":0.8,"z":-0.3},{"c":45,"s":-66,"x":-0.6,"y":0.4,"z":-0.5},{"c":45,"s":-60,"x":-0.9,"y":0.0,"z":-0.55},{"c":45,"s":-54,"x":-0.85,"y":-0.3,"z":-0.5},{"c":45,"s":-48,"x":-0.4,"y":0.2,"z":-0.45},{"c":45,"s":-42,"x":0.3,"y":0.7,"z":-0.3},{"c":45,"s":-36,"x":0.7,"y":0.9,"z":-0.5},{"c":45,"s":-30,"x":0.5,"y":0.2,"z":-0.9},{"c":45,"s":-24,"x":-0.1,"y":0.1,"z":-0.95},{"c":45,"s":-19,"x":-0.7,"y":0.5,"z":-0.9},{"c":45,"s":-14,"x":-0.6,"y":0.5,"z":-0.6},{"c":45,"s":-9,"x":0.1,"y":0.35,"z":0.1},{"c":45,"s":-4,"x":0.6,"y":0.3,"z":0.5},{"c":45,"s":0,"x":0.6,"y":0.85,"z":0.3},
{"c":46,"s":-84,"x":-0.3,"y":0.9,"z":0.3},{"c":46,"s":-78,"x":-0.6,"y":0.6,"z":-0.1},{"c":46,"s":-72,"x":-0.85,"y":0.2,"z":-0.4},{"c":46,"s":-65,"x":-0.9,"y":-0.1,"z":-0.55},{"c":46,"s":-58,"x":-0.8,"y":0.1,"z":-0.5},{"c":46,"s":-51,"x":-0.3,"y":0.6,"z":-0.4},{"c":46,"s":-45,"x":0.3,"y":0.9,"z":-0.3},{"c":46,"s":-39,"x":0.6,"y":0.5,"z":-0.6},{"c":46,"s":-33,"x":0.4,"y":-0.2,"z":-0.9},{"c":46,"s":-27,"x":-0.1,"y":0.0,"z":-0.85},{"c":46,"s":-21,"x":-0.6,"y":0.5,"z":-0.4},{"c":46,"s":-16,"x":-0.7,"y":0.5,"z":0.4},{"c":46,"s":-10,"x":0.1,"y":0.0,"z":0.85},{"c":46,"s":-5,"x":0.6,"y":0.3,"z":0.8},{"c":46,"s":0,"x":0.65,"y":0.9,"z":0.4},
{"c":47,"s":-63,"x":-0.8,"y":0.5,"z":-0.5},{"c":47,"s":-57,"x":-0.9,"y":0.2,"z":-0.55},{"c":47,"s":-51,"x":-0.7,"y":0.0,"z":-0.5},{"c":47,"s":-45,"x":-0.1,"y":0.5,"z":-0.3},{"c":47,"s":-39,"x":0.5,"y":0.9,"z":0.0},{"c":47,"s":-33,"x":0.7,"y":0.4,"z":-0.5},{"c":47,"s":-27,"x":0.3,"y":-0.2,"z":-0.9},{"c":47,"s":-21,"x":-0.4,"y":0.4,"z":-0.6},{"c":47,"s":-16,"x":-0.8,"y":0.5,"z":0.3},{"c":47,"s":-10,"x":0.0,"y":-0.1,"z":0.85},{"c":47,"s":-6,"x":0.5,"y":-0.28,"z":0.85},{"c":47,"s":-2,"x":0.8,"y":0.0,"z":0.6},{"c":47,"s":0,"x":0.7,"y":0.95,"z":0.4},
{"c":48,"s":-70,"x":0.3,"y":0.9,"z":-0.4},{"c":48,"s":-64,"x":-0.3,"y":0.6,"z":-0.5},{"c":48,"s":-58,"x":-0.8,"y":0.2,"z":-0.5},{"c":48,"s":-52,"x":-0.9,"y":0.0,"z":-0.5},{"c":48,"s":-46,"x":-0.5,"y":0.4,"z":-0.4},{"c":48,"s":-40,"x":0.1,"y":0.85,"z":-0.2},{"c":48,"s":-34,"x":0.5,"y":0.6,"z":-0.6},{"c":48,"s":-28,"x":0.4,"y":-0.4,"z":-0.95},{"c":48,"s":-22,"x":-0.3,"y":-0.1,"z":-0.85},{"c":48,"s":-17,"x":-0.85,"y":0.5,"z":-0.2},{"c":48,"s":-12,"x":-0.3,"y":0.4,"z":0.6},{"c":48,"s":-6,"x":0.5,"y":0.35,"z":0.85},{"c":48,"s":-2,"x":0.8,"y":0.5,"z":0.6},{"c":48,"s":0,"x":0.1,"y":0.9,"z":0.4},
{"c":49,"s":-77,"x":0.0,"y":0.9,"z":-0.1},{"c":49,"s":-71,"x":-0.5,"y":0.6,"z":-0.4},{"c":49,"s":-65,"x":-0.85,"y":0.2,"z":-0.5},{"c":49,"s":-58,"x":-0.9,"y":-0.1,"z":-0.5},{"c":49,"s":-51,"x":-0.7,"y":0.2,"z":-0.45},{"c":49,"s":-45,"x":0.0,"y":0.7,"z":-0.2},{"c":49,"s":-39,"x":0.5,"y":0.9,"z":-0.4},{"c":49,"s":-33,"x":0.6,"y":0.3,"z":-0.8},{"c":49,"s":-27,"x":-0.4,"y":-0.3,"z":-0.9},{"c":49,"s":-21,"x":-0.5,"y":0.4,"z":-0.5},{"c":49,"s":-16,"x":-0.8,"y":0.6,"z":0.3},{"c":49,"s":-10,"x":0.0,"y":0.35,"z":0.85},{"c":49,"s":-5,"x":0.6,"y":0.3,"z":0.8},{"c":49,"s":0,"x":0.6,"y":0.85,"z":0.35},
{"c":50,"s":-94,"x":0.0,"y":0.9,"z":0.15},{"c":50,"s":-88,"x":0.35,"y":0.95,"z":0.3},{"c":50,"s":-82,"x":0.45,"y":0.8,"z":0.25},{"c":50,"s":-76,"x":0.0,"y":0.4,"z":-0.1},{"c":50,"s":-70,"x":-0.6,"y":0.0,"z":-0.45},{"c":50,"s":-63,"x":-0.85,"y":-0.3,"z":-0.55},{"c":50,"s":-57,"x":-0.9,"y":-0.1,"z":-0.5},{"c":50,"s":-50,"x":-0.6,"y":0.4,"z":-0.45},{"c":50,"s":-44,"x":0.0,"y":0.85,"z":-0.2},{"c":50,"s":-38,"x":0.5,"y":0.7,"z":-0.5},{"c":50,"s":-32,"x":0.6,"y":0.0,"z":-0.85},{"c":50,"s":-26,"x":0.1,"y":-0.2,"z":-0.9},{"c":50,"s":-20,"x":-0.6,"y":0.5,"z":-0.5},{"c":50,"s":-15,"x":-0.8,"y":0.2,"z":0.3},{"c":50,"s":-9,"x":0.1,"y":-0.1,"z":0.85},{"c":50,"s":-4,"x":0.7,"y":0.4,"z":0.75},{"c":50,"s":0,"x":0.6,"y":0.9,"z":0.45},
{"c":51,"s":-67,"x":-0.6,"y":0.9,"z":-0.5},{"c":51,"s":-61,"x":-0.85,"y":0.5,"z":-0.55},{"c":51,"s":-55,"x":-0.9,"y":0.1,"z":-0.5},{"c":51,"s":-49,"x":-0.6,"y":0.2,"z":-0.4},{"c":51,"s":-43,"x":0.1,"y":0.7,"z":-0.1},{"c":51,"s":-37,"x":0.6,"y":0.9,"z":0.2},{"c":51,"s":-31,"x":0.6,"y":0.3,"z":0.2},{"c":51,"s":-25,"x":0.0,"y":-0.2,"z":-0.6},{"c":51,"s":-20,"x":-0.6,"y":0.4,"z":-0.85},{"c":51,"s":-15,"x":-0.75,"y":0.6,"z":-0.2},{"c":51,"s":-10,"x":-0.1,"y":0.4,"z":0.6},{"c":51,"s":-5,"x":0.6,"y":0.3,"z":0.9},{"c":51,"s":-1,"x":0.75,"y":0.7,"z":0.7},{"c":51,"s":0,"x":0.7,"y":0.9,"z":0.6},
{"c":52,"s":-86,"x":0.8,"y":0.9,"z":0.2},{"c":52,"s":-81,"x":0.9,"y":0.6,"z":0.0},{"c":52,"s":-75,"x":0.3,"y":0.2,"z":-0.3},{"c":52,"s":-69,"x":-0.5,"y":-0.1,"z":-0.5},{"c":52,"s":-62,"x":-0.85,"y":0.1,"z":-0.5},{"c":52,"s":-55,"x":-0.9,"y":0.5,"z":-0.5},{"c":52,"s":-48,"x":-0.5,"y":0.9,"z":-0.4},{"c":52,"s":-42,"x":0.2,"y":0.8,"z":-0.2},{"c":52,"s":-36,"x":0.6,"y":0.3,"z":0.5},{"c":52,"s":-30,"x":0.5,"y":-0.3,"z":-0.2},{"c":52,"s":-24,"x":0.0,"y":0.1,"z":-0.8},{"c":52,"s":-19,"x":-0.6,"y":0.5,"z":-0.6},{"c":52,"s":-14,"x":-0.7,"y":0.5,"z":0.3},{"c":52,"s":-8,"x":0.2,"y":0.35,"z":0.85},{"c":52,"s":-3,"x":0.75,"y":0.4,"z":0.8},{"c":52,"s":0,"x":0.6,"y":0.9,"z":0.7},
{"c":53,"s":-60,"x":-0.8,"y":0.6,"z":-0.5},{"c":53,"s":-54,"x":-0.9,"y":0.2,"z":-0.55},{"c":53,"s":-48,"x":-0.7,"y":0.0,"z":-0.5},{"c":53,"s":-42,"x":0.0,"y":0.5,"z":-0.3},{"c":53,"s":-36,"x":0.5,"y":0.9,"z":-0.5},{"c":53,"s":-30,"x":0.6,"y":0.3,"z":-0.9},{"c":53,"s":-24,"x":0.1,"y":0.0,"z":-0.85},{"c":53,"s":-19,"x":-0.6,"y":0.5,"z":-0.3},{"c":53,"s":-14,"x":-0.6,"y":0.8,"z":0.5},{"c":53,"s":-8,"x":0.3,"y":0.6,"z":0.9},{"c":53,"s":-3,"x":0.75,"y":0.5,"z":0.7},{"c":53,"s":0,"x":0.6,"y":0.9,"z":0.45},
{"c":54,"s":-81,"x":0.4,"y":0.9,"z":0.1},{"c":54,"s":-75,"x":-0.1,"y":0.6,"z":-0.2},{"c":54,"s":-69,"x":-0.7,"y":0.2,"z":-0.45},{"c":54,"s":-62,"x":-0.9,"y":-0.2,"z":-0.55},{"c":54,"s":-55,"x":-0.85,"y":0.1,"z":-0.5},{"c":54,"s":-49,"x":-0.4,"y":0.5,"z":-0.4},{"c":54,"s":-43,"x":0.2,"y":0.9,"z":-0.2},{"c":54,"s":-37,"x":0.6,"y":0.6,"z":-0.6},{"c":54,"s":-31,"x":0.4,"y":-0.1,"z":-0.9},{"c":54,"s":-25,"x":-0.2,"y":0.2,"z":-0.8},{"c":54,"s":-20,"x":-0.75,"y":0.6,"z":-0.2},{"c":54,"s":-15,"x":-0.5,"y":0.5,"z":0.5},{"c":54,"s":-9,"x":0.3,"y":0.3,"z":0.9},{"c":54,"s":-4,"x":0.75,"y":0.4,"z":0.7},{"c":54,"s":0,"x":0.6,"y":0.9,"z":0.4},
{"c":55,"s":-74,"x":0.5,"y":0.95,"z":0.0},{"c":55,"s":-68,"x":-0.1,"y":0.6,"z":-0.35},{"c":55,"s":-62,"x":-0.7,"y":0.2,"z":-0.5},{"c":55,"s":-56,"x":-0.9,"y":0.0,"z":-0.5},{"c":55,"s":-50,"x":-0.8,"y":0.3,"z":-0.45},{"c":55,"s":-44,"x":-0.2,"y":0.8,"z":-0.3},{"c":55,"s":-38,"x":0.4,"y":0.9,"z":-0.5},{"c":55,"s":-32,"x":0.7,"y":0.3,"z":-0.85},{"c":55,"s":-26,"x":0.3,"y":-0.2,"z":-0.9},{"c":55,"s":-20,"x":-0.4,"y":0.5,"z":-0.5},{"c":55,"s":-15,"x":-0.8,"y":0.5,"z":0.4},{"c":55,"s":-9,"x":0.1,"y":0.35,"z":0.9},{"c":55,"s":-4,"x":0.7,"y":0.4,"z":0.75},{"c":55,"s":0,"x":0.6,"y":0.85,"z":0.4},
{"c":56,"s":-65,"x":-0.5,"y":0.8,"z":-0.4},{"c":56,"s":-59,"x":-0.85,"y":0.4,"z":-0.5},{"c":56,"s":-53,"x":-0.9,"y":0.1,"z":-0.5},{"c":56,"s":-47,"x":-0.6,"y":0.3,"z":-0.4},{"c":56,"s":-41,"x":0.1,"y":0.8,"z":-0.1},{"c":56,"s":-35,"x":0.5,"y":0.8,"z":0.0},{"c":56,"s":-29,"x":0.6,"y":0.2,"z":-0.7},{"c":56,"s":-23,"x":0.1,"y":0.2,"z":-0.9},{"c":56,"s":-18,"x":-0.6,"y":0.6,"z":-0.5},{"c":56,"s":-13,"x":-0.6,"y":0.1,"z":0.4},{"c":56,"s":-7,"x":0.3,"y":0.3,"z":0.9},{"c":56,"s":-3,"x":0.75,"y":0.4,"z":0.7},{"c":56,"s":0,"x":0.6,"y":0.85,"z":0.4},
{"c":57,"s":-79,"x":0.35,"y":0.9,"z":0.1},{"c":57,"s":-73,"x":0.3,"y":0.8,"z":0.0},{"c":57,"s":-67,"x":-0.2,"y":0.4,"z":-0.3},{"c":57,"s":-61,"x":-0.8,"y":0.0,"z":-0.5},{"c":57,"s":-54,"x":-0.95,"y":-0.3,"z":-0.5},{"c":57,"s":-47,"x":-0.7,"y":0.1,"z":-0.4},{"c":57,"s":-41,"x":0.0,"y":0.7,"z":0.1},{"c":57,"s":-35,"x":0.5,"y":0.9,"z":0.45},{"c":57,"s":-30,"x":0.6,"y":0.3,"z":0.4},{"c":57,"s":-25,"x":0.2,"y":-0.3,"z":-0.3},{"c":57,"s":-20,"x":-0.5,"y":0.4,"z":-0.7},{"c":57,"s":-15,"x":-0.8,"y":0.6,"z":0.1},{"c":57,"s":-9,"x":0.0,"y":0.4,"z":0.8},{"c":57,"s":-4,"x":0.65,"y":0.35,"z":0.75},{"c":57,"s":0,"x":0.6,"y":0.9,"z":0.45},
{"c":58,"s":-72,"x":0.6,"y":0.95,"z":-0.1},{"c":58,"s":-66,"x":0.1,"y":0.7,"z":-0.4},{"c":58,"s":-60,"x":-0.6,"y":0.3,"z":-0.5},{"c":58,"s":-54,"x":-0.9,"y":0.0,"z":-0.55},{"c":58,"s":-48,"x":-0.8,"y":0.2,"z":-0.5},{"c":58,"s":-42,"x":-0.2,"y":0.7,"z":-0.3},{"c":58,"s":-36,"x":0.4,"y":0.9,"z":-0.5},{"c":58,"s":-30,"x":0.7,"y":0.4,"z":-0.8},{"c":58,"s":-24,"x":-0.3,"y":-0.1,"z":-0.9},{"c":58,"s":-19,"x":-0.4,"y":0.4,"z":-0.5},{"c":58,"s":-14,"x":-0.8,"y":0.5,"z":0.4},{"c":58,"s":-8,"x":0.0,"y":0.35,"z":0.9},{"c":58,"s":-3,"x":0.7,"y":0.45,"z":0.75},{"c":58,"s":0,"x":0.6,"y":0.9,"z":0.4},
{"c":59,"s":-69,"x":-0.2,"y":0.9,"z":-0.3},{"c":59,"s":-63,"x":-0.75,"y":0.6,"z":-0.45},{"c":59,"s":-57,"x":-0.9,"y":0.2,"z":-0.5},{"c":59,"s":-51,"x":-0.8,"y":0.0,"z":-0.5},{"c":59,"s":-45,"x":-0.2,"y":0.4,"z":-0.35},{"c":59,"s":-39,"x":0.4,"y":0.85,"z":0.0},{"c":59,"s":-33,"x":0.7,"y":0.6,"z":-0.4},{"c":59,"s":-27,"x":0.4,"y":0.0,"z":-0.85},{"c":59,"s":-21,"x":-0.3,"y":0.3,"z":-0.9},{"c":59,"s":-16,"x":-0.8,"y":0.6,"z":-0.3},{"c":59,"s":-11,"x":-0.2,"y":0.4,"z":0.6},{"c":59,"s":-5,"x":0.6,"y":0.3,"z":0.9},{"c":59,"s":0,"x":0.7,"y":0.9,"z":0.5},
{"c":60,"s":-83,"x":0.1,"y":0.9,"z":0.0},{"c":60,"s":-77,"x":-0.3,"y":0.7,"z":-0.3},{"c":60,"s":-71,"x":-0.8,"y":0.3,"z":-0.5},{"c":60,"s":-64,"x":-0.9,"y":-0.1,"z":-0.55},{"c":60,"s":-57,"x":-0.85,"y":0.0,"z":-0.5},{"c":60,"s":-50,"x":-0.4,"y":0.5,"z":-0.4},{"c":60,"s":-44,"x":0.2,"y":0.9,"z":-0.2},{"c":60,"s":-38,"x":0.6,"y":0.6,"z":-0.6},{"c":60,"s":-32,"x":0.5,"y":0.0,"z":-0.9},{"c":60,"s":-26,"x":-0.1,"y":0.1,"z":-0.95},{"c":60,"s":-21,"x":-0.7,"y":0.5,"z":-0.7},{"c":60,"s":-16,"x":-0.7,"y":0.6,"z":-0.1},{"c":60,"s":-10,"x":0.0,"y":0.7,"z":0.7},{"c":60,"s":-5,"x":0.6,"y":0.3,"z":0.9},{"c":60,"s":0,"x":0.7,"y":0.85,"z":0.7},
{"c":61,"s":-96,"x":-0.5,"y":1.0,"z":-0.1},{"c":61,"s":-91,"x":-0.2,"y":0.9,"z":-0.18},{"c":61,"s":-85,"x":0.25,"y":0.85,"z":-0.12},{"c":61,"s":-79,"x":0.5,"y":0.7,"z":0.05},{"c":61,"s":-73,"x":0.45,"y":0.3,"z":0.15},{"c":61,"s":-67,"x":0.0,"y":-0.1,"z":-0.1},{"c":61,"s":-61,"x":-0.6,"y":-0.35,"z":-0.4},{"c":61,"s":-55,"x":-0.9,"y":-0.2,"z":-0.55},{"c":61,"s":-49,"x":-0.8,"y":0.2,"z":-0.5},{"c":61,"s":-43,"x":-0.2,"y":0.7,"z":-0.3},{"c":61,"s":-37,"x":0.5,"y":0.9,"z":-0.1},{"c":61,"s":-31,"x":0.8,"y":0.3,"z":-0.6},{"c":61,"s":-25,"x":0.3,"y":-0.5,"z":-0.9},{"c":61,"s":-20,"x":-0.4,"y":0.0,"z":-0.7},{"c":61,"s":-16,"x":-0.8,"y":0.6,"z":0.0},{"c":61,"s":-11,"x":-0.2,"y":0.4,"z":0.7},{"c":61,"s":-6,"x":0.5,"y":0.3,"z":0.9},{"c":61,"s":-2,"x":0.8,"y":0.6,"z":0.6},{"c":61,"s":0,"x":0.7,"y":0.95,"z":0.4},
{"c":62,"s":-75,"x":0.2,"y":0.9,"z":0.2},{"c":62,"s":-69,"x":-0.3,"y":0.6,"z":-0.1},{"c":62,"s":-63,"x":-0.8,"y":0.2,"z":-0.4},{"c":62,"s":-57,"x":-0.9,"y":-0.1,"z":-0.5},{"c":62,"s":-51,"x":-0.7,"y":0.2,"z":-0.5},{"c":62,"s":-45,"x":0.0,"y":0.7,"z":-0.3},{"c":62,"s":-39,"x":0.5,"y":0.9,"z":0.1},{"c":62,"s":-33,"x":0.6,"y":0.3,"z":-0.5},{"c":62,"s":-27,"x":0.2,"y":-0.3,"z":-0.9},{"c":62,"s":-21,"x":-0.5,"y":0.4,"z":-0.8},{"c":62,"s":-16,"x":-0.8,"y":0.6,"z":-0.2},{"c":62,"s":-11,"x":-0.2,"y":0.4,"z":0.6},{"c":62,"s":-5,"x":0.6,"y":0.3,"z":0.9},{"c":62,"s":0,"x":0.7,"y":0.9,"z":0.5},
{"c":63,"s":-73,"x":0.4,"y":0.9,"z":0.3},{"c":63,"s":-67,"x":-0.1,"y":0.7,"z":0.0},{"c":63,"s":-61,"x":-0.7,"y":0.3,"z":-0.4},{"c":63,"s":-55,"x":-0.9,"y":0.0,"z":-0.5},{"c":63,"s":-49,"x":-0.8,"y":0.3,"z":-0.45},{"c":63,"s":-43,"x":-0.1,"y":0.8,"z":-0.3},{"c":63,"s":-37,"x":0.5,"y":0.9,"z":-0.5},{"c":63,"s":-31,"x":0.6,"y":0.2,"z":-0.85},{"c":63,"s":-25,"x":0.1,"y":0.2,"z":-0.9},{"c":63,"s":-20,"x":-0.5,"y":0.6,"z":-0.3},{"c":63,"s":-15,"x":-0.7,"y":0.5,"z":0.5},{"c":63,"s":-9,"x":0.1,"y":0.0,"z":0.9},{"c":63,"s":-4,"x":0.7,"y":0.4,"z":0.75},{"c":63,"s":0,"x":0.6,"y":0.9,"z":0.45},
{"c":64,"s":-61,"x":-0.8,"y":0.7,"z":-0.5},{"c":64,"s":-55,"x":-0.9,"y":0.3,"z":-0.5},{"c":64,"s":-49,"x":-0.7,"y":0.0,"z":-0.5},{"c":64,"s":-43,"x":0.0,"y":0.4,"z":-0.3},{"c":64,"s":-37,"x":0.6,"y":0.85,"z":0.5},{"c":64,"s":-31,"x":0.7,"y":0.5,"z":0.2},{"c":64,"s":-25,"x":0.2,"y":-0.3,"z":-0.6},{"c":64,"s":-20,"x":-0.5,"y":0.3,"z":-0.9},{"c":64,"s":-15,"x":-0.8,"y":0.6,"z":-0.3},{"c":64,"s":-10,"x":-0.1,"y":0.4,"z":0.6},{"c":64,"s":-5,"x":0.6,"y":0.3,"z":0.85},{"c":64,"s":-1,"x":0.7,"y":0.6,"z":0.0},{"c":64,"s":0,"x":0.6,"y":0.9,"z":-0.7},
{"c":65,"s":-88,"x":0.4,"y":0.95,"z":-0.2},{"c":65,"s":-82,"x":0.35,"y":0.8,"z":-0.1},{"c":65,"s":-76,"x":-0.1,"y":0.5,"z":-0.3},{"c":65,"s":-70,"x":-0.7,"y":0.1,"z":-0.45},{"c":65,"s":-64,"x":-0.9,"y":-0.1,"z":-0.5},{"c":65,"s":-57,"x":-0.85,"y":0.2,"z":-0.5},{"c":65,"s":-50,"x":-0.4,"y":0.6,"z":-0.4},{"c":65,"s":-44,"x":0.2,"y":0.9,"z":-0.3},{"c":65,"s":-38,"x":0.6,"y":0.5,"z":0.0},{"c":65,"s":-32,"x":0.5,"y":-0.2,"z":-0.6},{"c":65,"s":-26,"x":0.0,"y":0.0,"z":-0.95},{"c":65,"s":-21,"x":-0.6,"y":0.5,"z":-0.6},{"c":65,"s":-16,"x":-0.7,"y":0.55,"z":0.2},{"c":65,"s":-10,"x":0.1,"y":0.65,"z":0.85},{"c":65,"s":-5,"x":0.65,"y":0.3,"z":0.8},{"c":65,"s":0,"x":0.55,"y":0.9,"z":0.4}
]},
"spacing": 111.7,
"bounds": "flush",
"vconcat": [
 {"width": 898, "height": 114,
  "mark": {"type": "line", "interpolate": "monotone", "strokeWidth": 1.2, "clip": true},
  "encoding": {
   "x": {"field": "s", "type": "quantitative", "scale": {"domain": [-121.72, 3.53], "nice": false, "zero": false}, "axis": {"values": [-120, -100, -80, -60, -40, -20, 0], "title": "s"}},
   "y": {"field": "x", "type": "quantitative", "scale": {"domain": [-1.08, 1.08], "nice": false}, "axis": {"values": [-1, -0.5, 0, 0.5, 1], "labelExpr": "abs(datum.value) == 0.5 ? '' : format(datum.value, '.1f')", "title": "x'"}},
   "color": {"field": "c", "type": "nominal", "scale": {"range": ["#000000", "#FF0000", "#00CD00", "#0000FF", "#00FFFF", "#FF00FF", "#FFFF00", "#BEBEBE"]}, "legend": null},
   "strokeDash": {"field": "c", "type": "nominal", "scale": {"range": [[1, 0], [5, 5], [1, 4], [1, 4, 5, 4], [9, 4]]}, "legend": null}
  }},
 {"width": 898, "height": 114,
  "mark": {"type": "line", "interpolate": "monotone", "strokeWidth": 1.2, "clip": true},
  "encoding": {
   "x": {"field": "s", "type": "quantitative", "scale": {"domain": [-121.72, 3.53], "nice": false, "zero": false}, "axis": {"values": [-120, -100, -80, -60, -40, -20, 0], "title": "s"}},
   "y": {"field": "y", "type": "quantitative", "scale": {"domain": [-1.08, 1.08], "nice": false}, "axis": {"values": [-1, -0.5, 0, 0.5, 1], "labelExpr": "abs(datum.value) == 0.5 ? '' : format(datum.value, '.1f')", "title": "y'"}},
   "color": {"field": "c", "type": "nominal", "scale": {"range": ["#000000", "#FF0000", "#00CD00", "#0000FF", "#00FFFF", "#FF00FF", "#FFFF00", "#BEBEBE"]}, "legend": null},
   "strokeDash": {"field": "c", "type": "nominal", "scale": {"range": [[1, 0], [5, 5], [1, 4], [1, 4, 5, 4], [9, 4]]}, "legend": null}
  }},
 {"width": 898, "height": 114,
  "mark": {"type": "line", "interpolate": "monotone", "strokeWidth": 1.2, "clip": true},
  "encoding": {
   "x": {"field": "s", "type": "quantitative", "scale": {"domain": [-121.72, 3.53], "nice": false, "zero": false}, "axis": {"values": [-120, -100, -80, -60, -40, -20, 0], "title": "s"}},
   "y": {"field": "z", "type": "quantitative", "scale": {"domain": [-1.08, 1.08], "nice": false}, "axis": {"values": [-1, -0.5, 0, 0.5, 1], "labelExpr": "abs(datum.value) == 0.5 ? '' : format(datum.value, '.1f')", "title": "z'"}},
   "color": {"field": "c", "type": "nominal", "scale": {"range": ["#000000", "#FF0000", "#00CD00", "#0000FF", "#00FFFF", "#FF00FF", "#FFFF00", "#BEBEBE"]}, "legend": null},
   "strokeDash": {"field": "c", "type": "nominal", "scale": {"range": [[1, 0], [5, 5], [1, 4], [1, 4, 5, 4], [9, 4]]}, "legend": null}
  }}
]
}
